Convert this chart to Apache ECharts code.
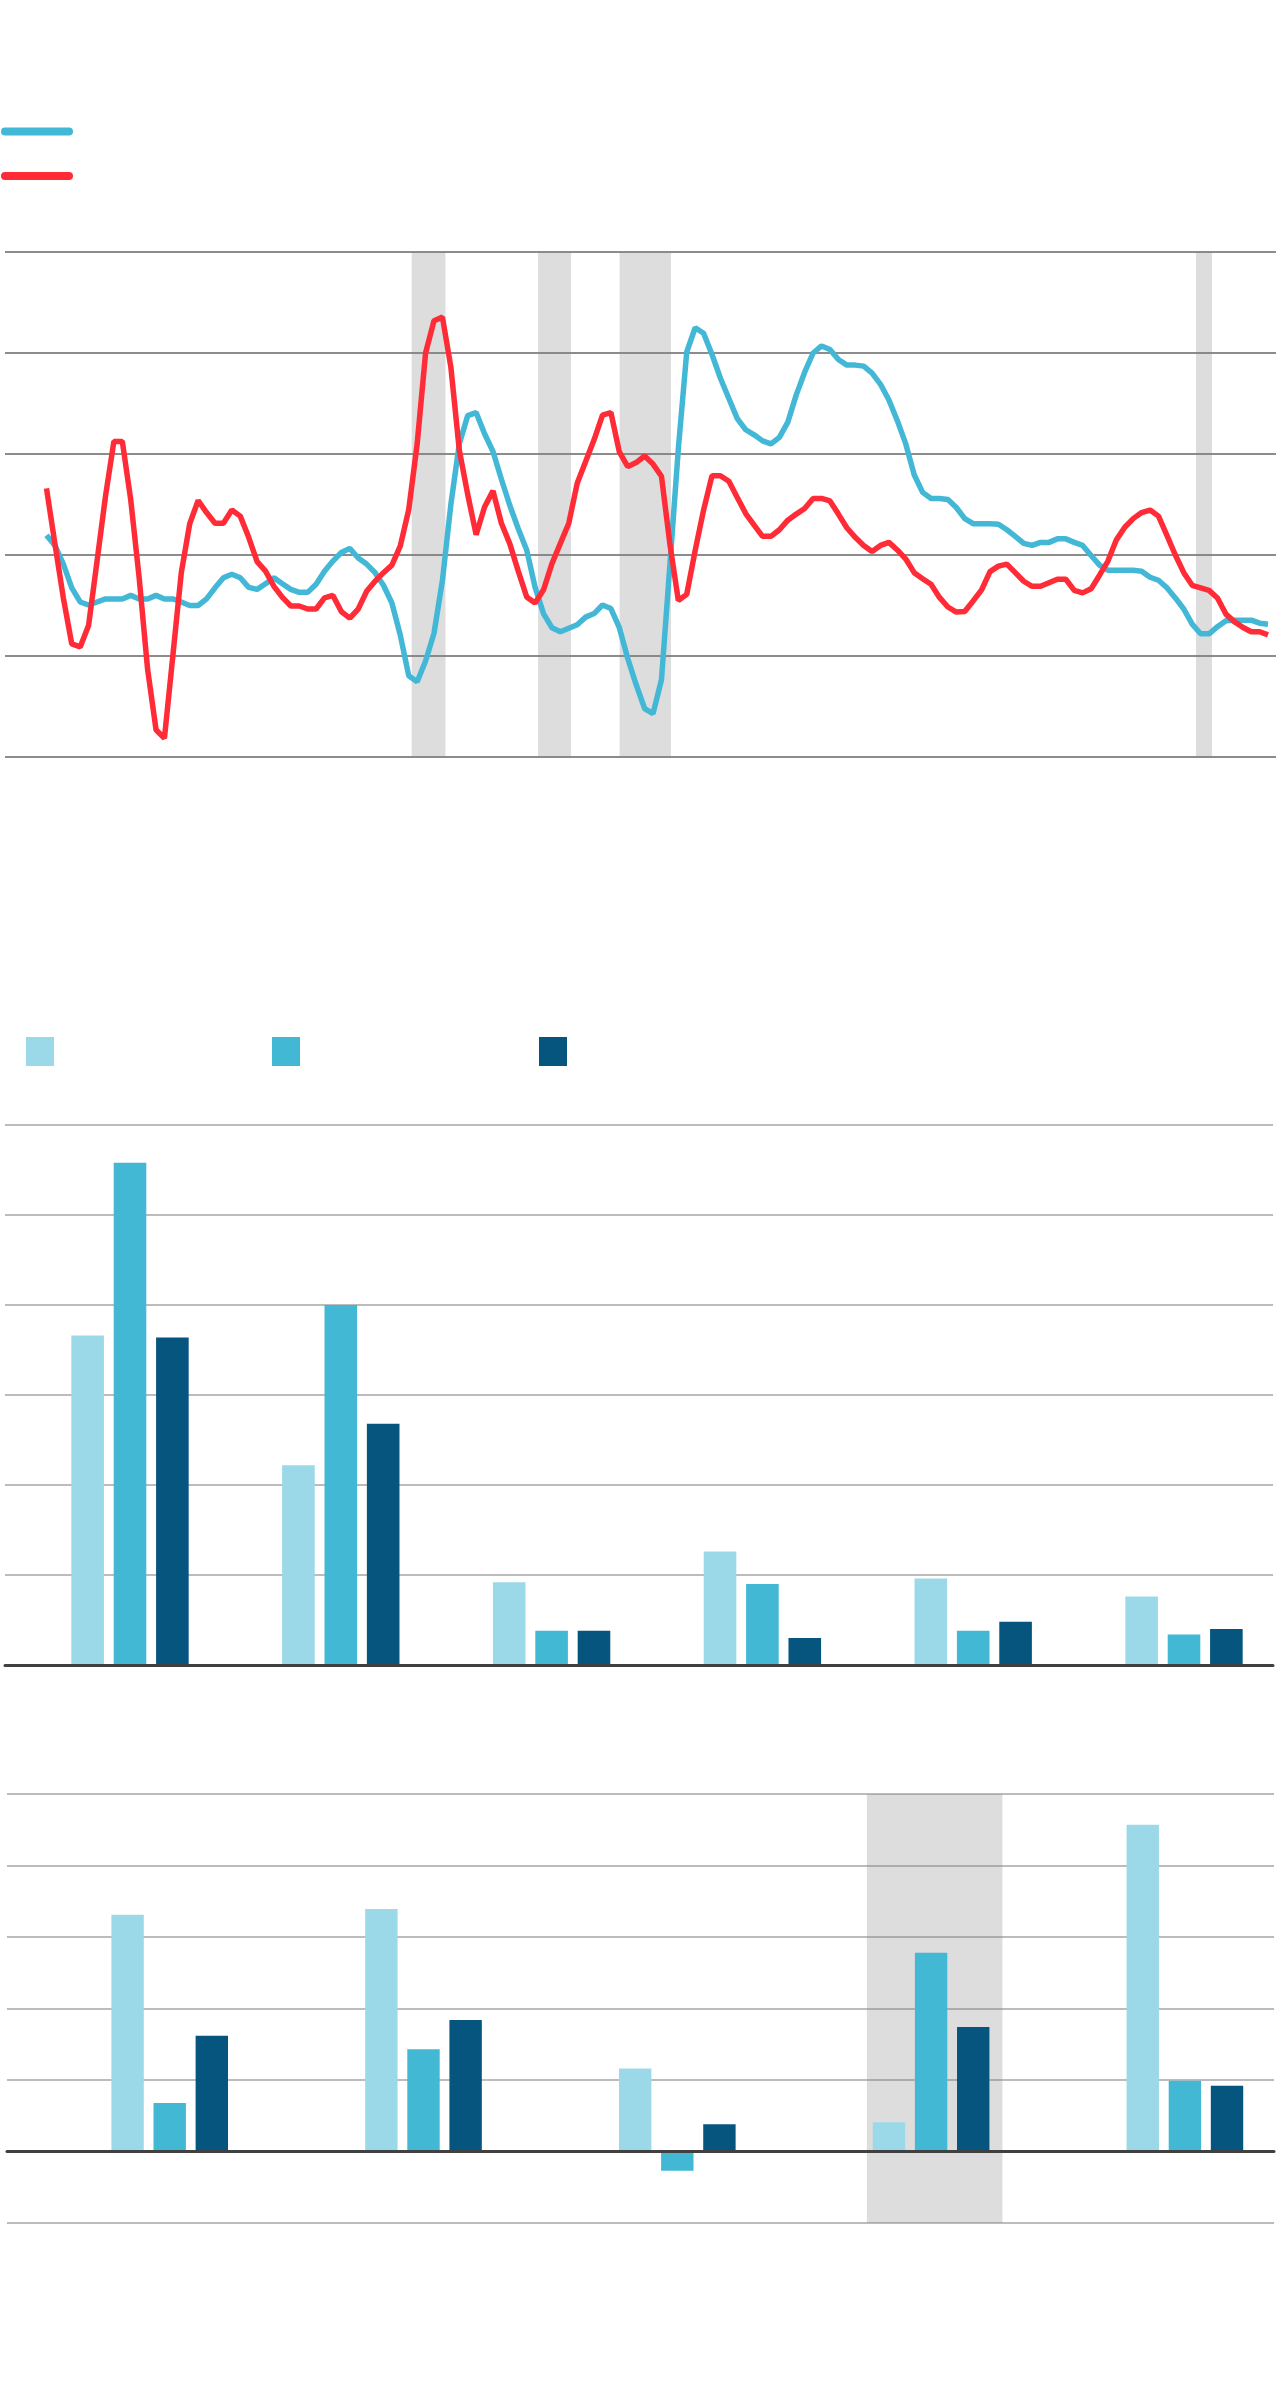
<!DOCTYPE html>
<html>
<head>
<meta charset="utf-8">
<script src="https://cdn.jsdelivr.net/npm/echarts@6/dist/echarts.min.js"></script>
<style>
html,body{margin:0;padding:0;background:#ffffff;}
#c{width:1280px;height:2390px;}
</style>
</head>
<body>
<div id="c"></div>
<script>
// ---------- Line chart data (one value per period) ----------
const cyanLine = [
  4.39, 4.19, 3.82, 3.35, 3.07, 3.01, 3.07, 3.13, 3.13, 3.13,
  3.20, 3.13, 3.13, 3.20, 3.13, 3.13, 3.07, 3.00, 3.00, 3.13,
  3.35, 3.55, 3.62, 3.55, 3.36, 3.32, 3.43, 3.55, 3.43, 3.32,
  3.26, 3.26, 3.42, 3.68, 3.88, 4.05, 4.13, 3.94, 3.82, 3.65,
  3.40, 3.05, 2.41, 1.61, 1.49, 1.90, 2.45, 3.50, 5.00, 6.20,
  6.76, 6.82, 6.40, 6.05, 5.50, 4.98, 4.52, 4.10, 3.36, 2.84,
  2.56, 2.48, 2.55, 2.62, 2.77, 2.84, 3.01, 2.94, 2.56, 1.95,
  1.43, 0.96, 0.86, 1.53, 3.80, 6.10, 8.02, 8.50, 8.39, 7.97,
  7.50, 7.10, 6.70, 6.48, 6.38, 6.26, 6.20, 6.33, 6.63, 7.17,
  7.62, 8.00, 8.14, 8.07, 7.87, 7.76, 7.76, 7.74, 7.60, 7.38,
  7.07, 6.66, 6.20, 5.59, 5.24, 5.12, 5.12, 5.10, 4.94, 4.72,
  4.62, 4.62, 4.62, 4.61, 4.50, 4.37, 4.23, 4.19, 4.25, 4.25,
  4.32, 4.32, 4.25, 4.19, 3.99, 3.80, 3.70, 3.70, 3.70, 3.70,
  3.68, 3.56, 3.50, 3.35, 3.15, 2.93, 2.63, 2.44, 2.44, 2.58,
  2.70, 2.71, 2.71, 2.71, 2.65, 2.63
];
const redLine = [
  5.32, 4.22, 3.15, 2.24, 2.18, 2.61, 3.88, 5.16, 6.25, 6.25,
  5.09, 3.55, 1.74, 0.54, 0.37, 2.01, 3.65, 4.62, 5.08, 4.84,
  4.63, 4.63, 4.89, 4.77, 4.35, 3.87, 3.68, 3.38, 3.16, 2.99,
  2.99, 2.93, 2.93, 3.15, 3.20, 2.88, 2.75, 2.93, 3.28, 3.48,
  3.65, 3.80, 4.18, 4.90, 6.20, 8.00, 8.64, 8.71, 7.72, 6.08,
  5.20, 4.40, 4.95, 5.27, 4.63, 4.22, 3.68, 3.17, 3.05, 3.31,
  3.83, 4.23, 4.63, 5.42, 5.85, 6.28, 6.77, 6.82, 6.04, 5.75,
  5.83, 5.96, 5.80, 5.56, 4.22, 3.10, 3.22, 4.09, 4.89, 5.57,
  5.57, 5.46, 5.14, 4.82, 4.59, 4.37, 4.37, 4.50, 4.69, 4.81,
  4.92, 5.12, 5.12, 5.07, 4.81, 4.54, 4.35, 4.19, 4.07, 4.19,
  4.25, 4.10, 3.92, 3.65, 3.53, 3.42, 3.16, 2.97, 2.87, 2.88,
  3.09, 3.31, 3.67, 3.78, 3.82, 3.65, 3.48, 3.38, 3.38, 3.45,
  3.52, 3.52, 3.30, 3.25, 3.33, 3.60, 3.88, 4.30, 4.55, 4.72,
  4.84, 4.89, 4.77, 4.39, 4.00, 3.65, 3.40, 3.35, 3.30, 3.15,
  2.83, 2.68, 2.57, 2.48, 2.48, 2.42
];
// shaded periods (in period-index units)
const lineBands = [[43.35, 47.36], [58.35, 62.26], [68.03, 74.13], [136.45, 138.35]];
const lineTicks = [0, 2, 4, 6, 8, 10];

// ---------- First bar chart ----------
const barCatsA = ['1', '2', '3', '4', '5', '6'];
const barA1 = [18.3, 11.1, 4.6, 6.3, 4.8, 3.8];
const barA2 = [27.9, 20.0, 1.9, 4.5, 1.9, 1.7];
const barA3 = [18.2, 13.4, 1.9, 1.5, 2.4, 2.0];
const barTicksA = [0, 5, 10, 15, 20, 25, 30];

// ---------- Second bar chart ----------
const barCatsB = ['1', '2', '3', '4', '5'];
const barB1 = [3.31, 3.39, 1.16, 0.41, 4.57];
const barB2 = [0.68, 1.43, -0.27, 2.78, 0.99];
const barB3 = [1.62, 1.84, 0.38, 1.74, 0.92];
const barTicksB = [-1, 0, 1, 2, 3, 4, 5];
const barBandB = [2.747, 3.281];

// ---------- Styles ----------
const C_CYAN = '#43b8d6';
const C_RED = '#ff2b37';
const C_LIGHT = '#9bd9e8';
const C_MID = '#42b8d5';
const C_DARK = '#05557f';
const BAND = 'rgba(128,128,128,0.27)';

const N = cyanLine.length;
const step = 8.424;
const xMinL = -(46.5 - 5) / step;
const xMaxL = (N - 1) + (1276 - 1268) / step;

const hidden = { show: false };
function gridOpt(left, top, width, height) {
  return { left, top, width, height, containLabel: false, outerBoundsMode: 'none' };
}
const pill = 'path://M4,0H68A4,4,0,0,1,68,8H4A4,4,0,0,1,4,0Z';

const chart = echarts.init(document.getElementById('c'), null, { renderer: 'canvas' });
const option = {
  animation: false,
  backgroundColor: '#ffffff',
  legend: [
    { data: ['L1', 'L2'], orient: 'vertical', left: 1, top: 127, itemWidth: 72, itemHeight: 9, itemGap: 36,
      icon: pill, padding: 0, selectedMode: false, formatter: () => '' },
    { data: ['S1'], left: 26, top: 1037, itemWidth: 28, itemHeight: 29, icon: 'rect', padding: 0, selectedMode: false, formatter: () => '' },
    { data: ['S2'], left: 272, top: 1037, itemWidth: 28, itemHeight: 29, icon: 'rect', padding: 0, selectedMode: false, formatter: () => '' },
    { data: ['S3'], left: 539, top: 1037, itemWidth: 28, itemHeight: 29, icon: 'rect', padding: 0, selectedMode: false, formatter: () => '' }
  ],
  grid: [
    gridOpt(5, 252, 1271, 505),       // 0 line chart
    gridOpt(5, 1125, 1268, 540),      // 1 bar A gridlines
    gridOpt(24.6, 1125, 1264.8, 540), // 2 bar A bars
    gridOpt(7, 1794, 1267, 429),      // 3 bar B gridlines
    gridOpt(42.8, 1794, 1269, 429)    // 4 bar B bars
  ],
  xAxis: [
    { gridIndex: 0, type: 'value', min: xMinL, max: xMaxL, show: false },
    { gridIndex: 1, type: 'value', min: 0, max: 1, z: 10,
      axisLine: { show: true, onZero: true, lineStyle: { color: '#404040', width: 3 } },
      axisTick: hidden, axisLabel: hidden, splitLine: hidden },
    { gridIndex: 2, type: 'category', data: barCatsA, show: false },
    { gridIndex: 3, type: 'value', min: 0, max: 1, z: 10,
      axisLine: { show: true, onZero: true, lineStyle: { color: '#404040', width: 3 } },
      axisTick: hidden, axisLabel: hidden, splitLine: hidden },
    { gridIndex: 4, type: 'category', data: barCatsB, show: false },
    { gridIndex: 4, type: 'value', min: -0.5, max: 4.5, show: false }
  ],
  yAxis: [
    { gridIndex: 0, type: 'value', min: lineTicks[0], max: lineTicks[lineTicks.length - 1], interval: 2,
      axisLine: hidden, axisTick: hidden, axisLabel: hidden,
      splitLine: { show: true, lineStyle: { color: '#8c8c8c', width: 2 } } },
    { gridIndex: 1, type: 'value', min: barTicksA[0], max: barTicksA[barTicksA.length - 1], interval: 5,
      axisLine: hidden, axisTick: hidden, axisLabel: hidden,
      splitLine: { show: true, lineStyle: { color: '#a6a6a6', width: 1.5 } } },
    { gridIndex: 2, type: 'value', min: barTicksA[0], max: barTicksA[barTicksA.length - 1], show: false },
    { gridIndex: 3, type: 'value', min: barTicksB[0], max: barTicksB[barTicksB.length - 1], interval: 1,
      axisLine: hidden, axisTick: hidden, axisLabel: hidden,
      splitLine: { show: true, lineStyle: { color: '#a6a6a6', width: 1.5 } } },
    { gridIndex: 4, type: 'value', min: barTicksB[0], max: barTicksB[barTicksB.length - 1], show: false }
  ],
  series: [
    { name: 'L1', type: 'line', xAxisIndex: 0, yAxisIndex: 0, clip: false,
      data: cyanLine.map((v, i) => [i, v]), showSymbol: false, symbol: 'none',
      itemStyle: { color: C_CYAN }, lineStyle: { color: C_CYAN, width: 5.5 }, z: 3,
      markArea: { silent: true, itemStyle: { color: BAND },
        data: lineBands.map(b => [{ xAxis: b[0], yAxis: -0.1 }, { xAxis: b[1], yAxis: 10.1 }]) } },
    { name: 'L2', type: 'line', xAxisIndex: 0, yAxisIndex: 0, clip: false,
      data: redLine.map((v, i) => [i, v]), showSymbol: false, symbol: 'none',
      itemStyle: { color: C_RED }, lineStyle: { color: C_RED, width: 5.5 }, z: 4 },

    { name: 'S1', type: 'bar', xAxisIndex: 2, yAxisIndex: 2, data: barA1, barWidth: 32.6, barGap: '30%', itemStyle: { color: C_LIGHT }, z: 3 },
    { name: 'S2', type: 'bar', xAxisIndex: 2, yAxisIndex: 2, data: barA2, barWidth: 32.6, barGap: '30%', itemStyle: { color: C_MID }, z: 3 },
    { name: 'S3', type: 'bar', xAxisIndex: 2, yAxisIndex: 2, data: barA3, barWidth: 32.6, barGap: '30%', itemStyle: { color: C_DARK }, z: 3 },

    { name: 'band', type: 'line', xAxisIndex: 5, yAxisIndex: 4, data: [], clip: false, z: 1,
      markArea: { silent: true, itemStyle: { color: BAND },
        data: [[{ xAxis: barBandB[0], yAxis: 5.01 }, { xAxis: barBandB[1], yAxis: -1.07 }]] } },
    { name: 'S1', type: 'bar', xAxisIndex: 4, yAxisIndex: 4, data: barB1, barWidth: 32.4, barGap: '30%', itemStyle: { color: C_LIGHT }, z: 3 },
    { name: 'S2', type: 'bar', xAxisIndex: 4, yAxisIndex: 4, data: barB2, barWidth: 32.4, barGap: '30%', itemStyle: { color: C_MID }, z: 3 },
    { name: 'S3', type: 'bar', xAxisIndex: 4, yAxisIndex: 4, data: barB3, barWidth: 32.4, barGap: '30%', itemStyle: { color: C_DARK }, z: 3 }
  ]
};
chart.setOption(option);
</script>
</body>
</html>
